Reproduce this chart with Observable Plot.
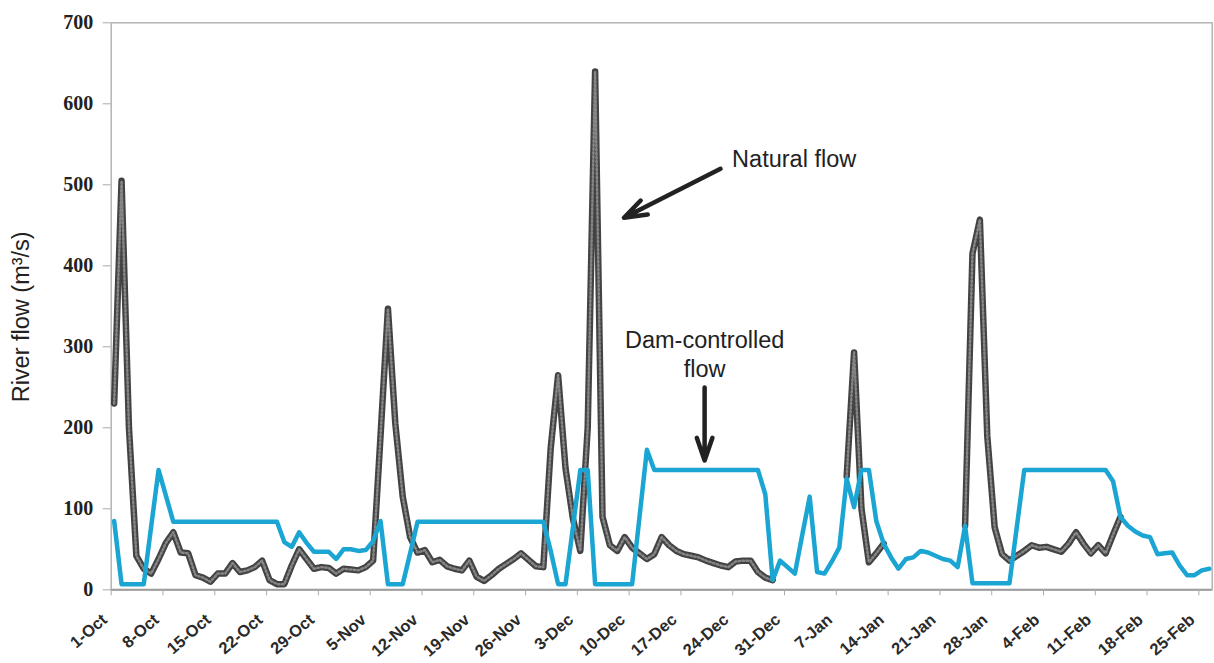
<!DOCTYPE html>
<html>
<head>
<meta charset="utf-8">
<script src="https://cdn.jsdelivr.net/npm/d3@7"></script>
<script src="https://cdn.jsdelivr.net/npm/@observablehq/plot@0.6"></script>
<style>
  html, body { margin: 0; padding: 0; background: #fff; }
  svg { display: block; }
</style>
</head>
<body>
<div id="chart"></div>
<script>
// Weekly tick labels (one every 7 days from 1-Oct)
const tickLabels = ["1-Oct","8-Oct","15-Oct","22-Oct","29-Oct","5-Nov","12-Nov","19-Nov","26-Nov",
  "3-Dec","10-Dec","17-Dec","24-Dec","31-Dec","7-Jan","14-Jan","21-Jan","28-Jan",
  "4-Feb","11-Feb","18-Feb","25-Feb"];
const yTicks = [0, 100, 200, 300, 400, 500, 600, 700];

// Daily dam-controlled flow (m3/s), 1-Oct onwards
const damFlow = [
  85, 7, 7, 7, 7, 78, 148, 116, 84, 84,
  84, 84, 84, 84, 84, 84, 84, 84, 84, 84,
  84, 84, 84, 59, 53, 71, 58, 47, 47, 47,
  38, 50, 50, 48, 49, 60, 85, 7, 7, 7,
  45, 84, 84, 84, 84, 84, 84, 84, 84, 84,
  84, 84, 84, 84, 84, 84, 84, 84, 84, 48,
  7, 7, 77, 148, 148, 7, 7, 7, 7, 7,
  7, 90, 173, 148, 148, 148, 148, 148, 148, 148,
  148, 148, 148, 148, 148, 148, 148, 148, 118, 12,
  36, 28, 20, 68, 115, 22, 20, 35, 52, 137,
  102, 148, 148, 85, 57, 40, 26, 38, 40, 48,
  46, 42, 38, 36, 28, 79, 8, 8, 8, 8,
  8, 8, 78, 148, 148, 148, 148, 148, 148, 148,
  148, 148, 148, 148, 148, 134, 90, 79, 72, 67,
  65, 44, 45, 46, 30, 18, 18, 24, 26
];

// Daily natural flow (m3/s); null where it coincides with (is hidden under) the dam-controlled flow
const naturalFlow = [
  230, 505, 200, 42, 26, 20, 38, 58, 71, 46,
  45, 18, 15, 10, 20, 20, 33, 22, 24, 28,
  36, 12, 7, 7, 30, 50, 38, 26, 28, 27,
  20, 26, 25, 24, 28, 36, 190, 347, 205, 115,
  65, 46, 49, 34, 37, 29, 26, 24, 36, 16,
  11, 18, 26, 32, 38, 45, 37, 29, 28, 175,
  265, 150, 88, 48, 200, 640, 90, 55, 48, 65,
  52, 45, 38, 44, 65, 55, 48, 44, 42, 40,
  36, 33, 30, 28, 35, 36, 36, 22, 15, 12,
  null, null, null, null, null, null, null, null, null, 140,
  293, 100, 34, 45, 57, null, null, null, null, null,
  null, null, null, null, null, 79, 415, 457, 190, 77,
  44, 36, 42, 48, 55, 52, 53, 50, 47, 57,
  71, 57, 45, 55, 45, 68, 90, null, null, null,
  null, null, null, null, null, null, null, null, null
];

// Annotations (data units: day index, flow)
const labelTexts = ["Natural flow", "Dam-controlled\nflow"];
const labelX = [92.3, 80.2];
const labelY = [534, 292];
const arrowX1 = [82.35, 80.2];
const arrowY1 = [519.8, 249.8];
const arrowX2 = [69.3, 80.2];
const arrowY2 = [459.3, 159.6];

const POINT_OFFSET = 0.4; // daily points sit slightly right of their date tick

const dam = damFlow.map((v, i) => ({day: i + POINT_OFFSET, flow: v}));
const natural = naturalFlow.map((v, i) => ({day: i + POINT_OFFSET, flow: v}));
const weekTicks = tickLabels.map((_, i) => i * 7);
const labels = labelTexts.map((t, i) => ({text: t, x: labelX[i], y: labelY[i]}));
const arrows = arrowX1.map((_, i) => ({x1: arrowX1[i], y1: arrowY1[i], x2: arrowX2[i], y2: arrowY2[i]}));

const sans = "'Liberation Sans', Arial, Helvetica, sans-serif";
const serif = "'Liberation Serif', 'Times New Roman', serif";

const chart = Plot.plot({
  width: 1214,
  height: 663,
  marginLeft: 110.7,
  marginRight: 2.3,
  marginTop: 22.3,
  marginBottom: 73.7,
  style: {background: "#fff", overflow: "visible"},
  x: {type: "linear", domain: [0, 148.8]},
  y: {domain: [0, 700]},
  marks: [
    Plot.frame({stroke: "#b4b4b4", strokeWidth: 1.5}),
    Plot.ruleY([0], {stroke: "#9c9c9c", strokeWidth: 2}),
    Plot.axisY({
      ticks: yTicks, tickSize: 8, tickPadding: 10, label: null,
      stroke: "#aaa", fill: "#222",
      fontSize: 20, fontFamily: serif, fontWeight: "bold"
    }),
    Plot.axisX({ticks: weekTicks, tickSize: 6, stroke: "#aaa", tickFormat: () => "", label: null}),
    Plot.text(weekTicks, {
      x: d => d, frameAnchor: "bottom", text: (d, i) => tickLabels[i],
      rotate: -41, textAnchor: "end", lineAnchor: "bottom",
      dx: -3, dy: 31.5, fontSize: 16.5, fontWeight: "bold", fontFamily: sans, fill: "#2a2a2a"
    }),
    Plot.text(["River flow (m\u00B3/s)"], {
      frameAnchor: "left", y: 337, rotate: -90, dx: -89.5,
      textAnchor: "middle", lineAnchor: "middle",
      fontSize: 23.5, fontFamily: sans, fill: "#222"
    }),
    Plot.line(natural, {
      x: "day", y: "flow", stroke: "#434343", strokeWidth: 6.5,
      strokeLinejoin: "round", strokeLinecap: "round"
    }),
    Plot.line(natural, {
      x: "day", y: "flow", stroke: "#858585", strokeWidth: 2.5,
      strokeDasharray: "1.5 2.5", strokeLinejoin: "round"
    }),
    Plot.line(dam, {
      x: "day", y: "flow", stroke: "#1ba5d3", strokeWidth: 4.5,
      strokeLinejoin: "round", strokeLinecap: "round"
    }),
    Plot.arrow(arrows, {
      x1: "x1", y1: "y1", x2: "x2", y2: "y2",
      stroke: "#222", strokeWidth: 4.5, headLength: 8, headAngle: 38
    }),
    Plot.text(labels, {
      x: "x", y: "y", text: "text", textAnchor: "middle",
      lineAnchor: "middle", lineHeight: 1.23,
      fontSize: 23.5, fontFamily: sans, fill: "#222"
    })
  ]
});
document.getElementById("chart").appendChild(chart);
</script>
</body>
</html>
